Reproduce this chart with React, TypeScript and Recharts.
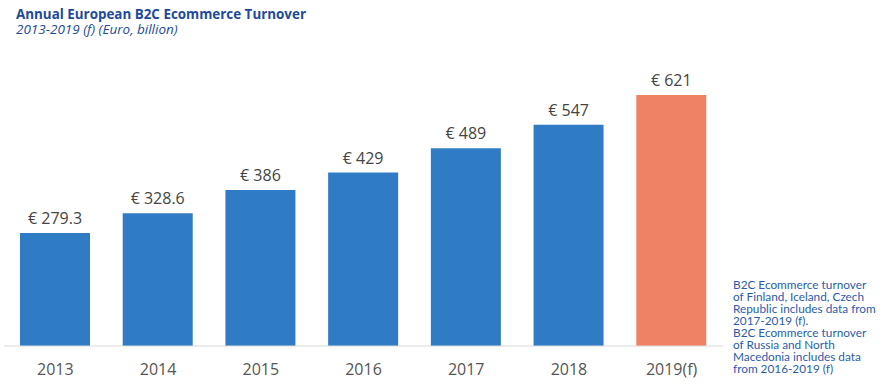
import { Bar, BarChart, Cell, LabelList, XAxis, YAxis } from "recharts";

const YEARS = ["2013", "2014", "2015", "2016", "2017", "2018", "2019(f)"];
const TURNOVER = [279.3, 328.6, 386, 429, 489, 547, 621];
const NOTE_LINES = [
  "B2C Ecommerce turnover",
  "of Finland, Iceland, Czech",
  "Republic includes data from",
  "2017-2019 (f).",
  "B2C Ecommerce turnover",
  "of Russia and North",
  "Macedonia includes data",
  "from 2016-2019 (f)",
];

const BLUE = "#2f7cc5";
const ORANGE = "#ef8165";

const data = YEARS.map((year, i) => ({ year, value: TURNOVER[i] }));

const App = () => {
  return (
    <div
      style={{
        position: "absolute",
        left: 0,
        top: 0,
        width: 887,
        height: 391,
        background: "#fff",
        fontFamily: "'Open Sans', sans-serif",
      }}
    >
      <div
        style={{
          position: "absolute",
          left: 16,
          top: 6,
          color: "#1d4a9c",
          fontWeight: 700,
          fontSize: 13.4,
          lineHeight: "16px",
        }}
      >
        Annual European B2C Ecommerce Turnover
      </div>
      <div
        style={{
          position: "absolute",
          left: 16,
          top: 21,
          color: "#1d4a9c",
          fontStyle: "italic",
          fontSize: 13.5,
          lineHeight: "16px",
        }}
      >
        2013-2019 (f) (Euro, billion)
      </div>
      <BarChart
        width={887}
        height={391}
        data={data}
        margin={{ top: 63, right: 164, bottom: 15, left: 4 }}
        barCategoryGap={32}
      >
        <XAxis
          dataKey="year"
          tickLine={false}
          axisLine={{ stroke: "#d9d9d9" }}
          tick={{ fill: "#555", fontSize: 16 }}
          tickSize={8}
          tickMargin={10}
        />
        <YAxis hide domain={[0, 700]} />
        <Bar dataKey="value" barSize={70} isAnimationActive={false}>
          {data.map((d, i) => (
            <Cell key={d.year} fill={i === data.length - 1 ? ORANGE : BLUE} />
          ))}
          <LabelList
            dataKey="value"
            position="top"
            offset={9}
            fill="#444"
            fontSize={16}
            formatter={(v: number) => `€ ${v}`}
          />
        </Bar>
      </BarChart>
      <div
        style={{
          position: "absolute",
          left: 733,
          top: 279,
          color: "#2a5db0",
          fontFamily: "Lato, sans-serif",
          fontSize: 11.8,
          lineHeight: "12px",
        }}
      >
        {NOTE_LINES.map((l) => (
          <div key={l}>{l}</div>
        ))}
      </div>
    </div>
  );
};

export default App;
